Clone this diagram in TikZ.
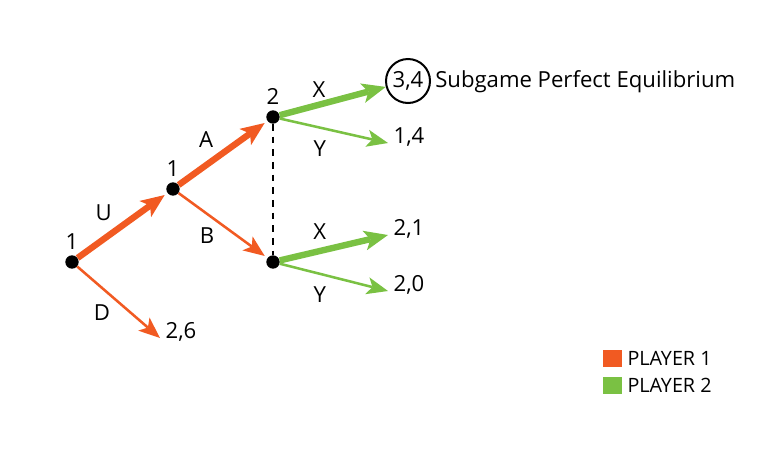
\documentclass[tikz,border=0pt]{standalone}
\usepackage{fontspec}
\setmainfont{Open Sans}
\usepackage{xcolor}
\usepackage{tikz}
\usetikzlibrary{positioning,arrows.meta,calc}

\definecolor{pone}{HTML}{F15A22}
\definecolor{ptwo}{HTML}{7AC143}

\begin{document}
\begin{tikzpicture}[x=0.75pt, y=-0.75pt, label distance=2pt,
    every node/.style={font=\fontsize{16.6}{20}\selectfont},
    dot/.style={circle, fill=black, inner sep=0pt, minimum size=10pt},
    owner/.style={inner sep=2pt},
    lbl/.style={inner sep=3pt, text=black},
    strong/.style={line width=4.8pt, -{Stealth[length=18pt, width=15pt, inset=4.5pt, line width=0pt]}},
    weak/.style={line width=1.9pt, -{Stealth[length=16pt, width=13pt, inset=4pt, line width=0pt]}},
    tonode/.style={shorten >=2.5pt},
    payoff/.style={anchor=base west, inner sep=0pt, inner xsep=4pt},
    keybox/.style={minimum width=14.25pt, minimum height=12.75pt, inner sep=0pt},
    keytext/.style={font=\fontsize{14.8}{17}\selectfont, inner sep=0pt, inner xsep=3.75pt}]

    \useasboundingbox (0,0) rectangle (768,458);

    % decision nodes
    \node[dot, label={[owner]above:1}] (root) at (72,262) {};
    \node[dot, label={[owner]above:1}] (mid) at (173,189) {};
    \node[dot, label={[owner]above:2}] (upper) at (273,117) {};
    \node[dot] (lower) at (273,262) {};

    % payoffs
    \node[draw, circle, line width=1.5pt, minimum size=33pt, inner sep=0pt] (p34) at (408,81) {3,4};
    \node[anchor=base west, inner sep=0pt, inner xsep=3pt] (spe) at (p34.base -| p34.east) {Subgame Perfect Equilibrium};
    \node[payoff] (p14) at (388,143) {1,4};
    \node[payoff] (p21) at (388,235) {2,1};
    \node[payoff] (p20) at (388,291) {2,0};
    \node[payoff] (p26) at (160,338) {2,6};

    % player 1 moves
    \draw[strong, pone, tonode] (root) -- node[lbl, pos=.46, above left] (lu) {U} (mid);
    \draw[weak, pone] (root) -- node[lbl, pos=.46, below left] (ld) {D} (p26.base west);
    \draw[strong, pone, tonode] (mid) -- node[lbl, pos=.47, above left] (la) {A} (upper);
    \draw[weak, pone, tonode] (mid) -- node[lbl, pos=.46, below left] (lb) {B} (lower);

    % player 2 moves
    \draw[line width=1.6pt, dash pattern=on 5pt off 4.5pt] (upper) -- (lower);
    \draw[strong, ptwo] (upper) -- node[lbl, pos=.37, above=0pt] (lx1) {X} (p34);
    \draw[weak, ptwo] (upper) -- node[lbl, pos=.37, below=6pt] (ly1) {Y} (p14.base west);
    \draw[strong, ptwo] (lower) -- node[lbl, pos=.37, above=3pt] (lx2) {X} (p21.base west);
    \draw[weak, ptwo] (lower) -- node[lbl, pos=.37, below=6pt] (ly2) {Y} (p20.base west);

    % legend
    \node[keybox, fill=pone] (key1) at (612.5,358.5) {};
    \node[keytext, right=0pt of key1] (key1t) {PLAYER 1};
    \node[keybox, fill=ptwo] (key2) at (612.5,385.5) {};
    \node[keytext, right=0pt of key2] (key2t) {PLAYER 2};
\end{tikzpicture}
\end{document}
